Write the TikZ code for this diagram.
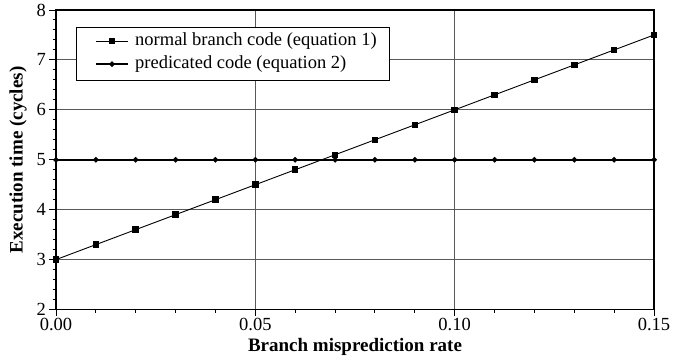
\documentclass[tikz,border=0pt]{standalone}
\usepackage{fontspec}
\setmainfont{Liberation Serif}
\tikzset{
  gridline/.style={draw=black!65, line width=1pt},
  frameline/.style={draw=black, line width=1.1pt},
  tickline/.style={draw=black, line width=1pt},
  normline/.style={draw=black, line width=0.9pt},
  predline/.style={draw=black, line width=2pt},
  sqmark/.style={rectangle, fill=black, minimum size=6.5pt, inner sep=0pt, draw=none},
  ticklabel/.style={inner sep=0pt, font=\fontsize{18.5}{21}\selectfont},
  axistitle/.style={inner sep=0pt, font=\fontsize{19}{22}\selectfont\bfseries},
  legendtext/.style={inner sep=0pt, anchor=west, font=\fontsize{18.5}{21}\selectfont},
}
\newcommand{\dmd}[2]{\fill (#1,#2) +(-3,0) -- +(0,-3) -- +(3,0) -- +(0,3) -- cycle;}
\begin{document}
\begin{tikzpicture}[x=1pt,y=-1pt]
\useasboundingbox (0,0) rectangle (685,362);
\def\xa{56}\def\xb{654}\def\ya{10}\def\yb{309.5}
% horizontal grid lines
\foreach \v in {3,...,7}{
  \pgfmathsetmacro\Y{\yb-(\v-2)*49.9167}
  \draw[gridline] (\xa,\Y) -- (\xb,\Y);
}
% vertical grid lines
\foreach \i in {5,10}{
  \pgfmathsetmacro\X{\xa+\i*39.8667}
  \draw[gridline] (\X,\ya) -- (\X,\yb);
}
% frame
\draw[frameline] (\xa,\ya) rectangle (\xb,\yb);
% y ticks
\foreach \v in {2,...,8}{
  \pgfmathsetmacro\Y{\yb-(\v-2)*49.9167}
  \draw[tickline] (49,\Y) -- (\xa,\Y);
  \node[ticklabel, anchor=east] (yl\v) at (46,\Y) {\v};
}
\foreach \k in {1,...,29}{
  \pgfmathsetmacro\Y{\yb-\k*9.9833}
  \draw[tickline] (52.5,\Y) -- (\xa,\Y);
}
% x ticks
\foreach \i in {0,...,15}{
  \pgfmathsetmacro\X{\xa+\i*39.8667}
  \draw[tickline] (\X,\yb) -- (\X,\yb+3.5);
}
\foreach \i/\t in {0/0.00,5/0.05,10/0.10,15/0.15}{
  \pgfmathsetmacro\X{\xa+\i*39.8667}
  \draw[tickline] (\X,\yb) -- (\X,\yb+6);
  \node[ticklabel, anchor=north] (xl\i) at (\X,318) {\t};
}
% predicated line
\draw[predline] (\xa,159.75) -- (\xb,159.75);
\foreach \i in {0,...,15}{
  \pgfmathsetmacro\X{\xa+\i*39.8667}
  \dmd{\X}{159.75}
}
% normal line
\pgfmathsetmacro\Ystart{\yb-1*49.9167}
\pgfmathsetmacro\Yend{\yb-5.5*49.9167}
\draw[normline] (\xa,\Ystart) -- (\xb,\Yend);
\foreach \i in {0,...,15}{
  \pgfmathsetmacro\X{\xa+\i*39.8667}
  \pgfmathsetmacro\Y{\yb-(1+0.3*\i)*49.9167}
  \node[sqmark] (m\i) at (\X,\Y) {};
}
% legend
\draw[fill=white, draw=black, line width=1pt] (76,27) rectangle (389,80);
\draw[normline] (96,41) -- (128,41);
\node[sqmark] (lm1) at (112,41) {};
\node[legendtext] (lt1) at (135,41) {normal branch code (equation 1)};
\draw[predline] (96,64) -- (128,64);
\dmd{112}{64}
\node[legendtext] (lt2) at (135,64) {predicated code (equation 2)};
% axis titles
\node[axistitle] (xtitle) at (355,347) {Branch misprediction rate};
\node[axistitle, rotate=90] (ytitle) at (18,160) {Execution time (cycles)};
\end{tikzpicture}
\end{document}
